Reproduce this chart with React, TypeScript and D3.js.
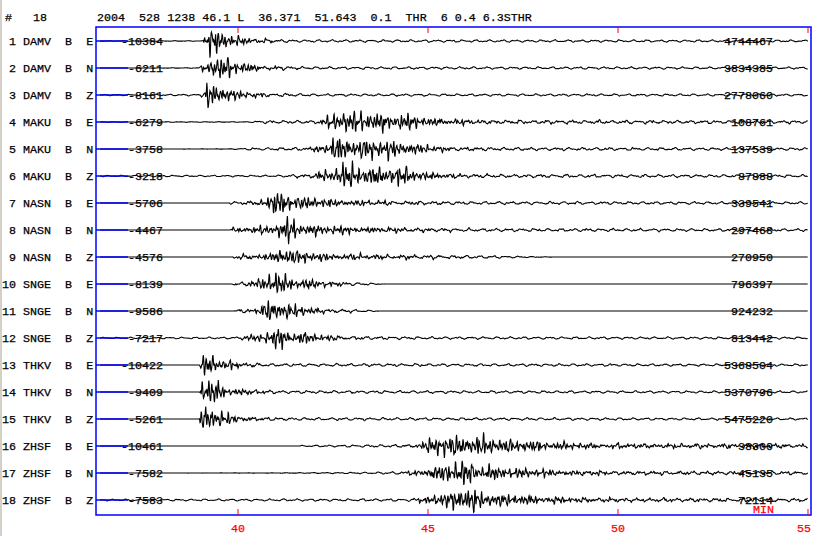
import React, { useMemo } from 'react'
import * as d3 from 'd3'

// header line of the record
const headerCount = '18'
const headerText = '2004  528 1238 46.1 L  36.371  51.643  0.1  THR  6 0.4 6.3STHR'

// trace labels
const stations = ['DAMV', 'DAMV', 'DAMV', 'MAKU', 'MAKU', 'MAKU', 'NASN', 'NASN', 'NASN',
  'SNGE', 'SNGE', 'SNGE', 'THKV', 'THKV', 'THKV', 'ZHSF', 'ZHSF', 'ZHSF']
const components = ['E', 'N', 'Z', 'E', 'N', 'Z', 'E', 'N', 'Z', 'E', 'N', 'Z', 'E', 'N', 'Z', 'E', 'N', 'Z']
const minCounts = [-10384, -6211, -8161, -6279, -3758, -3218, -5706, -4467, -4576,
  -8139, -9586, -7217, -10422, -9409, -5261, -10461, -7582, -7583]
const maxCounts = [4744467, 3834385, 2778060, 108761, 137539, 87888, 339541, 297468, 270950,
  796397, 924232, 813442, 5368504, 5370796, 5475220, 38300, 45135, 72114]

// time axis (minutes)
const startMin = 36.371
const endMin = 55
const timeTicks = [40, 45, 50, 55]

// amplitude envelopes: [minute, relative amplitude]
const envelopes: [number, number][][] = [
  [[36.37, 0.02], [39.08, 0.02], [39.12, 0.9], [39.3, 1.0], [39.6, 0.85], [39.9, 0.5], [40.2, 0.32], [40.7, 0.2], [41.5, 0.1], [55, 0.08]],
  [[36.37, 0], [38.95, 0.02], [39.05, 0.25], [39.2, 0.7], [39.35, 1.0], [39.7, 0.85], [40.0, 0.5], [40.4, 0.32], [40.9, 0.2], [42, 0.1], [55, 0.08]],
  [[36.37, 0.05], [39.0, 0.06], [39.1, 0.4], [39.25, 1.05], [39.55, 0.85], [39.8, 0.5], [40.2, 0.3], [40.8, 0.18], [42, 0.09], [55, 0.08]],
  [[36.37, 0.02], [40.35, 0.02], [40.45, 0.12], [42.1, 0.15], [42.4, 0.5], [42.6, 1.0], [42.9, 0.9], [43.6, 0.8], [44.3, 0.7], [44.8, 0.42], [45.4, 0.3], [46.9, 0.18], [55, 0.13]],
  [[36.37, 0], [39.8, 0.01], [40.4, 0.1], [41.8, 0.15], [42.3, 0.45], [42.6, 1.0], [42.9, 0.9], [43.6, 0.8], [44.3, 0.65], [44.8, 0.38], [45.5, 0.22], [47, 0.14], [55, 0.1]],
  [[36.37, 0.05], [41, 0.06], [42.0, 0.22], [42.5, 0.65], [42.75, 1.1], [43.1, 0.85], [43.7, 0.8], [44.3, 0.72], [44.9, 0.38], [45.6, 0.22], [47, 0.15], [55, 0.1]],
  [[36.37, 0], [39.78, 0], [39.82, 0.12], [40.5, 0.22], [40.8, 0.65], [41.0, 0.95], [41.3, 0.85], [41.7, 0.5], [42.5, 0.32], [44.3, 0.2], [46, 0.13], [55, 0.1]],
  [[36.37, 0], [39.78, 0], [39.85, 0.22], [40.9, 0.38], [41.2, 0.85], [41.35, 1.15], [41.6, 0.55], [42.5, 0.35], [44, 0.25], [46, 0.14], [55, 0.1]],
  [[36.37, 0], [39.85, 0], [39.9, 0.2], [40.9, 0.32], [41.2, 0.75], [41.35, 0.95], [41.6, 0.45], [42.5, 0.3], [44.3, 0.22], [46.9, 0.1], [47.6, 0.04], [48.5, 0], [55, 0]],
  [[36.37, 0], [39.84, 0], [39.9, 0.14], [40.5, 0.3], [40.7, 0.85], [41.0, 0.95], [41.3, 0.6], [42.2, 0.3], [43.2, 0.12], [43.9, 0], [55, 0]],
  [[36.37, 0], [39.9, 0], [39.95, 0.12], [40.6, 0.32], [40.75, 1.0], [41.1, 0.9], [41.4, 0.5], [42.2, 0.25], [43.2, 0.1], [43.8, 0], [55, 0]],
  [[36.37, 0.05], [39.8, 0.07], [40.2, 0.22], [40.9, 0.55], [41.1, 1.0], [41.4, 0.6], [42.2, 0.3], [43.2, 0.15], [45, 0.1], [55, 0.08]],
  [[36.37, 0], [38.98, 0], [39.03, 0.7], [39.15, 1.0], [39.4, 0.7], [39.6, 0.45], [40.05, 0.25], [40.9, 0.12], [55, 0.08]],
  [[36.37, 0], [38.97, 0], [39.02, 0.8], [39.15, 1.2], [39.4, 0.95], [39.6, 0.55], [40.05, 0.3], [41.1, 0.12], [55, 0.08]],
  [[36.37, 0], [38.97, 0], [39.02, 0.7], [39.15, 1.2], [39.4, 0.95], [39.6, 0.5], [40.05, 0.28], [41.1, 0.12], [55, 0.08]],
  [[36.37, 0], [41.6, 0], [41.7, 0.05], [44.3, 0.12], [44.9, 0.35], [45.3, 0.9], [46.1, 0.9], [46.9, 0.6], [48.2, 0.35], [49.5, 0.25], [55, 0.2]],
  [[36.37, 0], [41.0, 0.01], [43.5, 0.06], [44.3, 0.12], [44.9, 0.35], [45.5, 0.85], [45.9, 1.0], [46.3, 0.75], [46.9, 0.5], [48.2, 0.3], [50, 0.2], [55, 0.15]],
  [[36.37, 0.06], [44.5, 0.1], [45.0, 0.32], [45.6, 0.75], [46.0, 1.2], [46.3, 0.75], [46.9, 0.5], [48.2, 0.3], [50, 0.2], [55, 0.15]],
]

const FONT = '"Liberation Mono", "DejaVu Sans Mono", monospace'
const BLUE = '#0000ff'
const RED = '#ff0000'

// oscillation texture drawn under each envelope: sharp near the peaks, smoother in the coda
function wiggle(t: number, k: number, e: number) {
  const p = k * 1.37 + 0.4
  const w = 2 * Math.PI
  const hf = 0.32 * Math.sin(w * 11.3 * t + p) +
    0.24 * Math.sin(w * 16.9 * t + 2.1 * p) +
    0.18 * Math.sin(w * 7.1 * t + 0.7 * p) +
    0.14 * Math.sin(w * 23.7 * t + 3.3 * p) +
    0.12 * Math.sin(w * 4.3 * t + 1.9 * p)
  const m = 0.75 + 0.45 * Math.sin(w * 1.7 * t + 2.3 * p) * Math.sin(w * 3.1 * t + 0.5 * p)
  const lf = 0.55 * Math.sin(w * 2.9 * t + p) + 0.3 * Math.sin(w * 5.3 * t + 1.3 * p) +
    0.15 * Math.sin(w * 9.7 * t + 2.7 * p)
  const b = Math.min(1, e / 0.35)
  return b * hf * m * 1.25 + (1 - b) * lf * 1.2
}

export default function App() {
  const width = 813
  const height = 536
  const left = 96
  const right = 811
  const top = 27
  const bottom = 515

  const x = d3.scaleLinear().domain([40, 55]).range([238, 808])
  const rowY = d3.scalePoint<number>().domain(d3.range(stations.length)).range([41, 500])
  const amp = d3.scaleLinear().domain([0, 1]).range([0, 15.5])

  const paths = useMemo(() => {
    const times = d3.range(startMin, endMin, 0.01)
    return envelopes.map((knots, k) => {
      const env = d3.scaleLinear()
        .domain(knots.map((d) => d[0]))
        .range(knots.map((d) => d[1]))
        .clamp(true)
      const y0 = rowY(k) as number
      const line = d3.line<number>()
        .x((t) => x(t))
        .y((t) => {
          const e = env(t)
          return y0 - amp(e) * wiggle(t, k, e)
        })
      return line(times) as string
    })
  }, [])

  const txt = { fontFamily: FONT, fontSize: 11.7, stroke: '#000', strokeWidth: 0.25 }

  return (
    <svg width={width} height={height}
      style={{ position: 'absolute', left: 0, top: 0, background: '#fff' }}>
      <rect x={0} y={0} width={2} height={height} fill="#d4d0c8" />
      <text x={5} y={21} {...txt}>#</text>
      <text x={33} y={21} {...txt}>{headerCount}</text>
      <text x={97} y={21} {...txt} style={{ whiteSpace: 'pre' }}>{headerText}</text>

      {/* traces */}
      {paths.map((p, k) => (
        <path key={'tr' + k} d={p} fill="none" stroke="#000" strokeWidth={1.1} />
      ))}

      {/* pre-event stubs */}
      {stations.map((_, k) => (
        <line key={'st' + k} x1={left} x2={128} y1={rowY(k)} y2={rowY(k)} stroke={BLUE} strokeWidth={1.5} />
      ))}

      {/* labels and amplitude numbers */}
      {stations.map((s, k) => {
        const y = (rowY(k) as number) + 4
        const label = `${String(k + 1).padStart(2)} ${s}  B  ${components[k]}`
        return (
          <g key={'lb' + k} fill="#000">
            <text x={2} y={y} {...txt} style={{ whiteSpace: 'pre' }}>{label}</text>
            <text x={163} y={y} {...txt} textAnchor="end">{minCounts[k]}</text>
            <text x={773} y={y} {...txt} textAnchor="end">{maxCounts[k]}</text>
          </g>
        )
      })}

      {/* frame */}
      <rect x={left} y={top} width={right - left} height={bottom - top} fill="none" stroke={BLUE} strokeWidth={1.5} />

      {/* time ticks */}
      {timeTicks.map((t) => (
        <g key={'tk' + t}>
          <line x1={x(t)} x2={x(t)} y1={top} y2={top + 6} stroke={RED} strokeWidth={1} />
          <line x1={x(t)} x2={x(t)} y1={bottom - 6} y2={bottom} stroke={RED} strokeWidth={1} />
          <text x={Math.min(x(t), 804)} y={532} textAnchor="middle" fontFamily={FONT} fontSize={11.7}
            fill={RED} stroke={RED} strokeWidth={0.25}>{t}</text>
        </g>
      ))}
      <text x={753} y={513} fontFamily={FONT} fontSize={11.7} fill={RED} stroke={RED} strokeWidth={0.25}>MIN</text>
    </svg>
  )
}
